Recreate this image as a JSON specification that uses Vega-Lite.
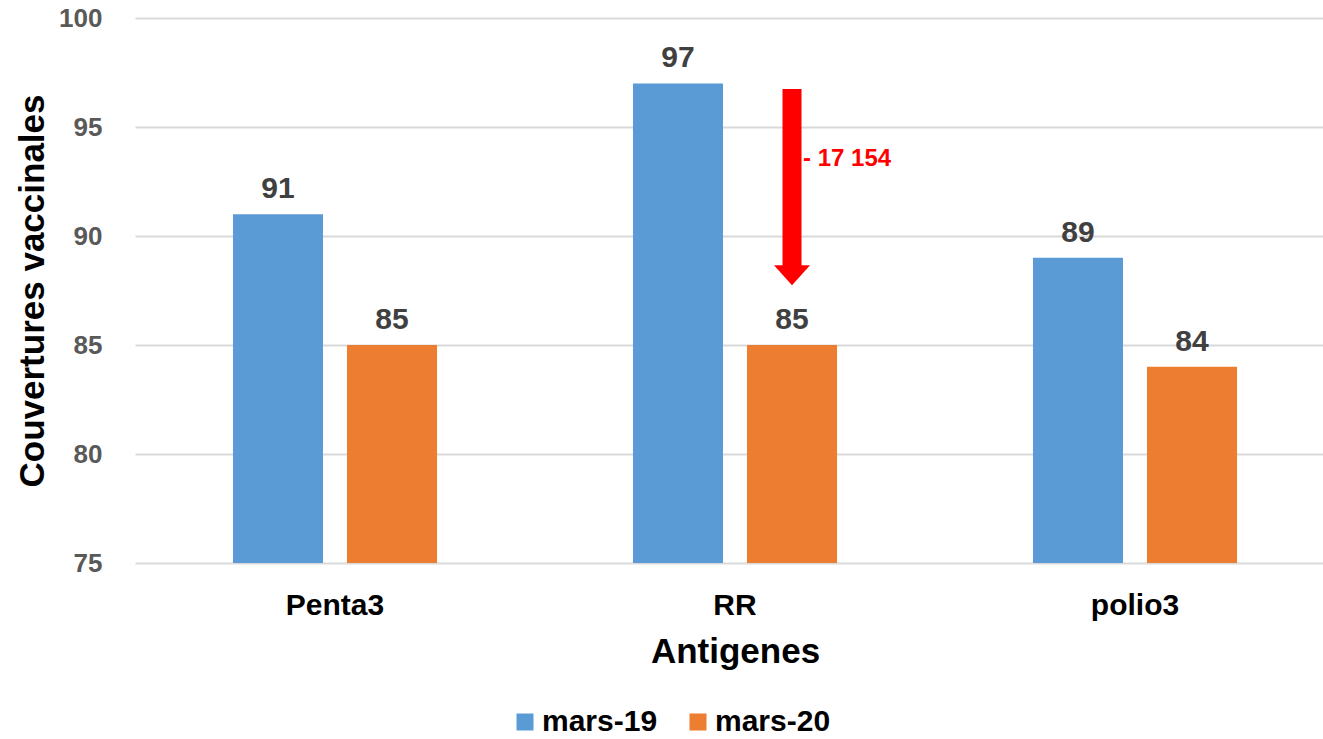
{
  "$schema": "https://vega.github.io/schema/vega-lite/v6.json",
  "autosize": {"type": "none"},
  "padding": {"left": 135, "top": 18, "right": 0, "bottom": 176},
  "width": 1188,
  "height": 545,
  "background": "white",
  "config": {
    "view": {"stroke": null},
    "font": "Liberation Sans"
  },
  "datasets": {
    "couv": [
      {"antigene": "Penta3", "serie": "mars-19", "valeur": 91},
      {"antigene": "Penta3", "serie": "mars-20", "valeur": 85},
      {"antigene": "RR", "serie": "mars-19", "valeur": 97},
      {"antigene": "RR", "serie": "mars-20", "valeur": 85},
      {"antigene": "polio3", "serie": "mars-19", "valeur": 89},
      {"antigene": "polio3", "serie": "mars-20", "valeur": 84}
    ],
    "note": [
      {"antigene": "RR", "serie": "mars-20", "debut": 96.74, "fin": 88.55, "pointe": 88.2, "ty": 93.51, "label": "- 17 154"}
    ]
  },
  "encoding": {
    "x": {
      "field": "antigene", "type": "nominal", "sort": ["Penta3", "RR", "polio3"],
      "scale": {"range": [0, 1200], "paddingInner": 0.43, "paddingOuter": 0.215},
      "axis": {
        "title": "Antigenes", "titleFontSize": 35, "titleFontWeight": "bold", "titleColor": "#000000", "titlePadding": 14,
        "labelFontSize": 30, "labelFontWeight": "bold", "labelColor": "#000000", "labelPadding": 27,
        "labelAngle": 0, "domain": false, "ticks": false, "grid": false
      }
    },
    "xOffset": {
      "field": "serie", "type": "nominal", "sort": ["mars-19", "mars-20"],
      "scale": {"paddingInner": 0.2105, "paddingOuter": 0.105}
    }
  },
  "layer": [
    {
      "data": {"name": "couv"},
      "mark": {"type": "bar"},
      "encoding": {
        "y": {
          "field": "valeur", "type": "quantitative",
          "scale": {"domain": [75, 100], "zero": false, "nice": false},
          "axis": {
            "title": "Couvertures vaccinales", "titleFontSize": 35, "titleFontWeight": "bold", "titleColor": "#000000", "titlePadding": 8,
            "values": [75, 80, 85, 90, 95, 100],
            "labelFontSize": 26, "labelFontWeight": "bold", "labelColor": "#595959", "labelPadding": 33,
            "domain": false, "ticks": false, "gridColor": "#d9d9d9", "gridWidth": 2
          }
        },
        "y2": {"datum": 75},
        "color": {
          "field": "serie", "type": "nominal",
          "scale": {"domain": ["mars-19", "mars-20"], "range": ["#5B9BD5", "#ED7D31"]},
          "legend": {
            "title": null, "orient": "none", "direction": "horizontal",
            "legendX": 375, "legendY": 689,
            "symbolType": "square", "symbolSize": 289, "symbolStrokeWidth": 0,
            "labelFontSize": 30, "labelFontWeight": "bold", "labelColor": "#000000",
            "columnPadding": 25, "labelOffset": 2
          }
        }
      }
    },
    {
      "data": {"name": "couv"},
      "mark": {"type": "text", "fontSize": 30, "fontWeight": "bold", "color": "#404040", "baseline": "alphabetic", "dy": -16},
      "encoding": {
        "y": {"field": "valeur", "type": "quantitative"},
        "text": {"field": "valeur", "type": "quantitative"}
      }
    },
    {
      "data": {"name": "note"},
      "mark": {"type": "rule", "color": "#FF0000", "strokeWidth": 19},
      "encoding": {
        "y": {"field": "debut", "type": "quantitative"},
        "y2": {"field": "fin"}
      }
    },
    {
      "data": {"name": "note"},
      "mark": {"type": "point", "shape": "M-1,-0.55L1,-0.55L0,0.55Z", "filled": true, "color": "#FF0000", "size": 1300, "opacity": 1},
      "encoding": {
        "y": {"field": "pointe", "type": "quantitative"}
      }
    },
    {
      "data": {"name": "note"},
      "mark": {"type": "text", "fontSize": 24, "fontWeight": "bold", "color": "#FF0000", "align": "left", "baseline": "middle", "dx": 11},
      "encoding": {
        "y": {"field": "ty", "type": "quantitative"},
        "text": {"field": "label"}
      }
    }
  ]
}
